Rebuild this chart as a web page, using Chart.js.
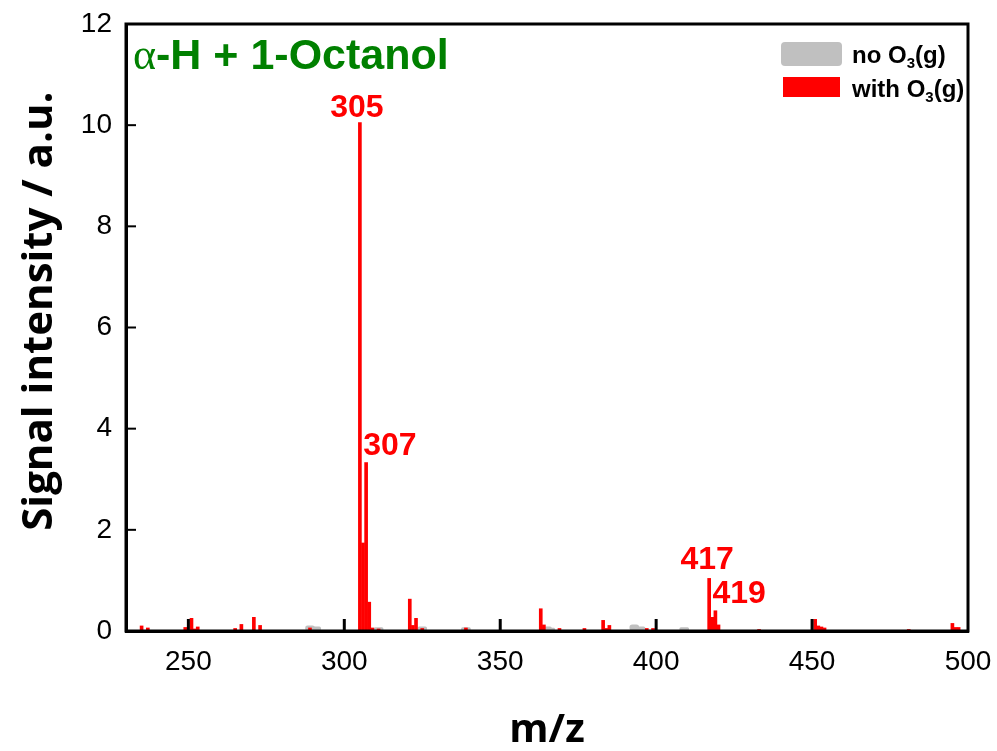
<!DOCTYPE html>
<html>
<head>
<meta charset="utf-8">
<script src="https://cdn.jsdelivr.net/npm/chart.js@4"></script>
<style>
  body { margin: 0; background: #fff; }
  #wrap { width: 997px; height: 751px; }
</style>
</head>
<body>
<div id="wrap"><canvas id="msChart"></canvas></div>
<script>
// m/z values and intensities
const redMz = [235, 237, 249, 251, 252, 253, 265, 267, 271, 273, 289,
    305, 306, 307, 308, 309, 311, 321, 322, 323, 325, 339, 363, 364, 369, 377,
    383, 384, 385, 397, 399, 417, 418, 419, 420, 433, 451, 452, 453, 454, 481,
    495, 496, 497];
const redIntensity = [0.10, 0.06, 0.07, 0.25, 0.04, 0.08, 0.05, 0.13, 0.27, 0.11, 0.06,
    10.05, 1.74, 3.33, 0.57, 0.06, 0.04, 0.63, 0.11, 0.25, 0.05, 0.06, 0.44, 0.12, 0.05, 0.05,
    0.21, 0.05, 0.11, 0.05, 0.05, 1.04, 0.27, 0.40, 0.12, 0.03, 0.23, 0.10, 0.08, 0.06, 0.03,
    0.15, 0.07, 0.07];

const grayMz = [289, 291, 311, 325, 339, 365, 366, 393, 395, 409];
const grayIntensity = [0.10, 0.08, 0.07, 0.08, 0.07, 0.08, 0.06, 0.12, 0.08, 0.07];

// peaks that get a number written above them
const labelledPeaks = [305, 307, 417, 419];

const xTicks = [250, 300, 350, 400, 450, 500];
const yTicks = [0, 2, 4, 6, 8, 10, 12];

const toPoints = (xs, ys) => xs.map((x, i) => ({ x: x, y: ys[i] }));

// frame, inward ticks, peak labels, legend and title
const decorations = {
    id: 'decorations',
    afterDatasetsDraw(chart) {
        const { ctx, chartArea: a, scales: { x, y } } = chart;
        ctx.save();

        // inward tick marks
        ctx.strokeStyle = '#000';
        ctx.lineWidth = 3;
        xTicks.forEach(v => {
            const px = x.getPixelForValue(v);
            if (v >= 500) return;
            ctx.beginPath();
            ctx.moveTo(px, a.bottom);
            ctx.lineTo(px, a.bottom - 12);
            ctx.stroke();
        });
        ctx.lineWidth = 2;
        yTicks.forEach(v => {
            const py = y.getPixelForValue(v);
            ctx.beginPath();
            ctx.moveTo(a.left, py);
            ctx.lineTo(a.left + 10, py);
            ctx.stroke();
        });

        // box round the plot
        ctx.lineWidth = 3;
        ctx.strokeRect(a.left, a.top, a.right - a.left, a.bottom - a.top);

        // peak labels
        ctx.fillStyle = '#ff0000';
        ctx.font = 'bold 32px "Liberation Sans", Arial, sans-serif';
        ctx.textBaseline = 'alphabetic';
        labelledPeaks.forEach(mz => {
            const i = redMz.indexOf(mz);
            const px = x.getPixelForValue(mz);
            const py = y.getPixelForValue(redIntensity[i]);
            if (mz === 305) {
                ctx.textAlign = 'center';
                ctx.fillText(String(mz), px - 3, py - 6);
            } else if (mz === 417) {
                ctx.textAlign = 'center';
                ctx.fillText(String(mz), px - 2, py - 9);
            } else {
                ctx.textAlign = 'left';
                ctx.fillText(String(mz), px - 3, py - 8);
            }
        });

        // title
        ctx.fillStyle = '#008000';
        ctx.textAlign = 'left';
        ctx.font = '44px "Liberation Serif", "Times New Roman", serif';
        let tx = a.left + 7;
        const ty = a.top + 45;
        ctx.fillText('\u03b1', tx, ty);
        tx += ctx.measureText('\u03b1').width;
        ctx.font = 'bold 43px "Liberation Sans", Arial, sans-serif';
        ctx.fillText('-H + 1-Octanol', tx, ty);

        // legend
        const drawEntry = (label, sy, color, round) => {
            ctx.fillStyle = color;
            ctx.beginPath();
            if (round) ctx.roundRect(781, sy, 61, 24, 4);
            else ctx.rect(783, sy + 1, 57, 20);
            ctx.fill();
            ctx.fillStyle = '#000';
            ctx.font = 'bold 24px "Liberation Sans", Arial, sans-serif';
            let lx = 852;
            const by = sy + 21;
            ctx.fillText(label + ' O', lx, by);
            lx += ctx.measureText(label + ' O').width;
            ctx.font = 'bold 15px "Liberation Sans", Arial, sans-serif';
            ctx.fillText('3', lx, by + 5);
            lx += ctx.measureText('3').width;
            ctx.font = 'bold 24px "Liberation Sans", Arial, sans-serif';
            ctx.fillText('(g)', lx, by);
        };
        drawEntry('no', 42, '#c0c0c0', true);
        drawEntry('with', 76, '#ff0000', false);

        ctx.restore();
    }
};

const tickFont = { family: '"Liberation Sans", Arial, sans-serif', size: 28 };

new Chart(document.getElementById('msChart'), {
    type: 'bar',
    data: {
        datasets: [
            {
                label: 'no O3(g)',
                data: toPoints(grayMz, grayIntensity),
                backgroundColor: '#c0c0c0',
                barThickness: 9,
                borderRadius: 4,
                borderSkipped: false,
                grouped: false,
                order: 2
            },
            {
                label: 'with O3(g)',
                data: toPoints(redMz, redIntensity),
                backgroundColor: '#ff0000',
                barThickness: 3,
                grouped: false,
                order: 1
            }
        ]
    },
    options: {
        responsive: true,
        maintainAspectRatio: false,
        animation: false,
        layout: { padding: { left: 0, top: 24, right: 29, bottom: 0 } },
        plugins: {
            legend: { display: false },
            tooltip: { enabled: false }
        },
        scales: {
            x: {
                type: 'linear',
                min: 230,
                max: 500,
                offset: false,
                afterBuildTicks: scale => { scale.ticks = xTicks.map(v => ({ value: v })); },
                afterFit: scale => {
                    scale.height = 120;
                    scale.paddingLeft = 0;
                    scale.paddingRight = 0;
                },
                grid: { display: true, drawOnChartArea: false, drawTicks: false, offset: false },
                border: { display: true, color: '#000', width: 3 },
                ticks: { color: '#000', font: tickFont, padding: 14, maxRotation: 0 },
                title: {
                    display: true,
                    text: 'm/z',
                    color: '#000',
                    font: { family: '"Open Sans", sans-serif', size: 40, weight: 'bold', lineHeight: 1 },
                    padding: { top: 0, bottom: 0 }
                }
            },
            y: {
                min: 0,
                max: 12,
                afterBuildTicks: scale => { scale.ticks = yTicks.map(v => ({ value: v })); },
                afterFit: scale => {
                    scale.width = 126;
                    scale.paddingTop = 0;
                    scale.paddingBottom = 0;
                },
                grid: { display: true, drawOnChartArea: false, drawTicks: false },
                border: { display: true, color: '#000', width: 3 },
                ticks: { color: '#000', font: tickFont, padding: 14 },
                title: {
                    display: true,
                    // leading spaces nudge the centred label up a little, as in the original
                    text: '   Signal intensity / a.u.',
                    color: '#000',
                    font: { family: '"Open Sans", sans-serif', size: 42, weight: 'bold', lineHeight: 1.2 },
                    padding: { top: 15, bottom: 0 }
                }
            }
        }
    },
    plugins: [decorations]
});
</script>
</body>
</html>
